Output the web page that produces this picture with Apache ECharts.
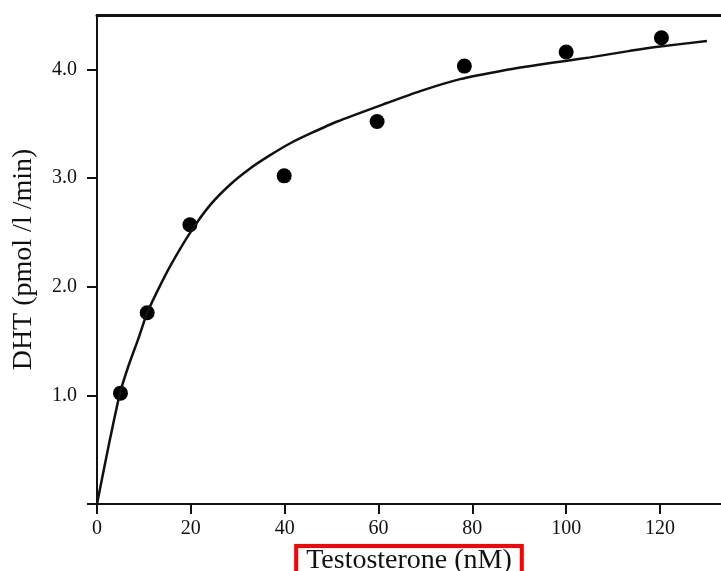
<!DOCTYPE html>
<html>
<head>
<meta charset="utf-8">
<title>DHT vs Testosterone</title>
<script src="https://cdn.jsdelivr.net/npm/echarts@6/dist/echarts.min.js"></script>
<style>
  html, body { margin: 0; padding: 0; background: #fff; }
  #chart { width: 721px; height: 571px; }
</style>
</head>
<body>
<div id="chart"></div>
<script>
// measured points (testosterone nM, DHT pmol/l/min)
const doseNm = [5, 10.7, 19.8, 39.9, 59.7, 78.3, 100, 120.3];
const dhtRate = [1.02, 1.76, 2.57, 3.02, 3.52, 4.03, 4.16, 4.29];

// fitted curve
const fitX = [0, 2.5, 4.9, 6.7, 8.8, 10.7, 13.1, 15.6, 19.9, 24.1, 28.4, 32.7, 36.9, 41.2, 45.5, 51.2, 61.8, 68.9, 77.4, 86.6, 93.8, 100.2, 105.1, 113.6, 120, 130];
const fitY = [0, 0.54, 1.02, 1.27, 1.52, 1.76, 1.98, 2.19, 2.50, 2.75, 2.94, 3.09, 3.21, 3.32, 3.41, 3.52, 3.69, 3.80, 3.91, 3.99, 4.04, 4.08, 4.11, 4.17, 4.21, 4.26];

// tick labels
const xTicks = [0, 20, 40, 60, 80, 100, 120];
const yTicks = [1, 2, 3, 4];

const font = 'Liberation Serif';

const chart = echarts.init(document.getElementById('chart'));

const option = {
  backgroundColor: '#fff',
  animation: false,
  grid: { left: 97, right: 0, top: 15, bottom: 67, containLabel: false, outerBoundsMode: 'none' },
  xAxis: [
    {
      type: 'value',
      min: 0,
      max: 133,
      name: 'Testosterone (nM)',
      nameLocation: 'middle',
      nameGap: 38,
      nameTextStyle: {
        fontFamily: font,
        fontSize: 28,
        color: '#111',
        borderColor: '#f00',
        borderWidth: 4,
        padding: [1, 10, 6, 10]
      },
      splitLine: { show: false },
      axisLine: { lineStyle: { color: '#111', width: 2 } },
      axisTick: { length: 10, lineStyle: { color: '#111', width: 2 }, customValues: xTicks },
      axisLabel: { customValues: xTicks, margin: 15, fontFamily: font, fontSize: 20, color: '#111' }
    },
    {
      type: 'value',
      position: 'top',
      min: 0,
      max: 133,
      splitLine: { show: false },
      axisLine: { show: true, lineStyle: { color: '#111', width: 3 } },
      axisTick: { show: false },
      axisLabel: { show: false }
    }
  ],
  yAxis: {
    type: 'value',
    min: 0,
    max: 4.5,
    name: 'DHT (pmol /l /min)',
    nameLocation: 'middle',
    nameGap: 59,
    nameTextStyle: { fontFamily: font, fontSize: 28, color: '#111' },
    splitLine: { show: false },
    axisLine: { show: true, lineStyle: { color: '#111', width: 2 } },
    axisTick: { length: 10, lineStyle: { color: '#111', width: 2 }, customValues: [0].concat(yTicks) },
    axisLabel: {
      customValues: yTicks,
      margin: 20,
      fontFamily: font,
      fontSize: 20,
      color: '#111',
      formatter: v => v.toFixed(1)
    }
  },
  series: [
    {
      type: 'line',
      data: fitX.map((x, i) => [x, fitY[i]]),
      smooth: 0.2,
      showSymbol: false,
      lineStyle: { color: '#111', width: 2.5 }
    },
    {
      type: 'scatter',
      data: doseNm.map((x, i) => [x, dhtRate[i]]),
      symbolSize: 15,
      itemStyle: { color: '#000', opacity: 1 }
    }
  ]
};

chart.setOption(option);
</script>
</body>
</html>
